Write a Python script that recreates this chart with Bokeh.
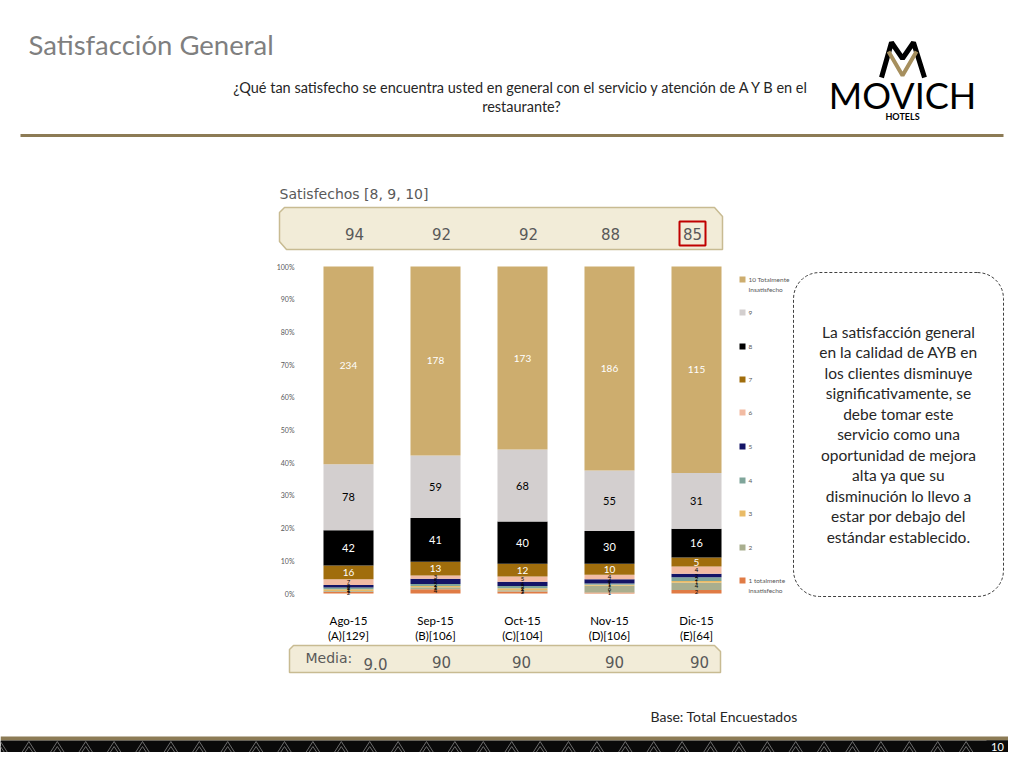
import numpy as np
from bokeh.plotting import figure
from bokeh.models import Range1d, LinearAxis, FixedTicker, PrintfTickFormatter, ColumnDataSource
from bokeh.core.properties import value
from bokeh.embed import file_html
from bokeh.resources import INLINE

# ---------------- data ----------------
months = ["Ago-15", "Sep-15", "Oct-15", "Nov-15", "Dic-15"]
bases = ["(A)[129]", "(B)[106]", "(C)[104]", "(D)[106]", "(E)[64]"]
satisfechos = [94, 92, 92, 88, 85]
media = ["9.0", "90", "90", "90", "90"]
levels = ["1", "2", "3", "4", "5", "6", "7", "8", "9", "10"]
legend_labels = ["1 totalmente\ninsatisfecho", "2", "3", "4", "5", "6", "7", "8", "9",
                 "10 Totalmente\nInsatisfecho"]
s1 = [2, 4, 2, 1, 2]
s2 = [1, 2, 1, 6, 4]
s3 = [2, 1, 2, 1, 1]
s4 = [2, 2, 2, 1, 2]
s5 = [3, 5, 4, 4, 2]
s6 = [7, 3, 5, 4, 4]
s7 = [16, 13, 12, 10, 5]
s8 = [42, 41, 40, 30, 16]
s9 = [78, 59, 68, 55, 31]
s10 = [234, 178, 173, 186, 115]
series = [s1, s2, s3, s4, s5, s6, s7, s8, s9, s10]
colors = ["#E07B45", "#A9AE8E", "#E9BB66", "#7FA59A", "#141466", "#F2BBA3",
          "#A06D0C", "#000000", "#D3CFCF", "#CDAD6E"]
label_colors = ["black"] * 6 + ["white", "white", "black", "white"]
label_sizes = ["6px"] * 6 + ["10px", "11px", "11px", "10px"]

# ---------------- figure (page pixel coordinates) ----------------
p = figure(width=1008, height=752, output_backend="svg", toolbar_location=None,
           x_range=Range1d(0, 1008), y_range=Range1d(752, 0),
           x_axis_location=None, y_axis_location=None, min_border=0)
p.grid.visible = False
p.outline_line_color = None
p.background_fill_color = "white"

# bar chart ranges mapped onto the page
p.extra_x_ranges = {"bx": Range1d((0 - 348) / 87, (1008 - 348) / 87)}
p.extra_y_ranges = {"by": Range1d((593 - 752) / 3.27, (593 - 0) / 3.27)}

FONT = value("Lato")
GOTH = value("DejaVu Sans")

def txt(x, y, t, size, color="#262626", align="left", font=FONT, style="normal", base="middle"):
    p.text(x=[x], y=[y], text=[t], text_font=font, text_font_size=size,
           text_color=color, text_align=align, text_baseline=base, text_font_style=style)

def rrect(x0, y0, x1, y1, r, n=10):
    xs, ys = [], []
    for cx, cy, a0 in [(x1 - r, y0 + r, -90), (x1 - r, y1 - r, 0), (x0 + r, y1 - r, 90), (x0 + r, y0 + r, 180)]:
        a = np.radians(np.linspace(a0, a0 + 90, n))
        xs += list(cx + r * np.cos(a))
        ys += list(cy + r * np.sin(a))
    xs.append(xs[0]); ys.append(ys[0])
    return xs, ys

# ---------------- header ----------------
txt(28, 44, "Satisfacción General", "27.5px", color="#7F7F7F")
txt(521, 87, "¿Qué tan satisfecho se encuentra usted en general con el servicio y atención de A Y B en el",
    "14.5px", align="center")
txt(521, 106, "restaurante?", "14.5px", align="center")
p.line([20, 1003], [135, 135], line_color="#8C7B55", line_width=3)

# logo
p.line([881, 891, 902, 913, 924], [77, 42, 58, 42, 77], line_color="black", line_width=5)
p.line([888, 902, 916], [51, 75, 51], line_color="#A68F5E", line_width=4)
txt(902, 94, "MOVICH", "36px", color="black", align="center")
txt(902, 116, "HOTELS", "9px", color="black", align="center", style="bold")

# ---------------- Satisfechos box ----------------
txt(279, 193, "Satisfechos [8, 9, 10]", "14px", color="#595959", font=GOTH)
p.patch([284, 714, 722, 722, 286, 279, 279], [207, 207, 216, 249, 249, 241, 212],
        fill_color="#F2ECD8", line_color="#C8BB92", line_width=1.5)
sx = [354, 441, 528, 610, 692]
p.text(x=sx, y=[233] * 5, text=[str(v) for v in satisfechos], text_font=GOTH,
       text_font_size="15px", text_color="#595959", text_align="center", text_baseline="middle")
p.quad(left=[679], right=[705], top=[221], bottom=[245], fill_color=None,
       line_color="#C00000", line_width=2)

# ---------------- stacked bars ----------------
tot = np.sum(np.array(series), axis=0)
pct = [list(np.array(s) / tot * 100) for s in series]
src = ColumnDataSource({"x": list(range(5)), **{levels[k]: pct[k] for k in range(10)}})
p.vbar_stack(levels, x="x", width=0.575, color=colors, source=src, line_color=None,
             x_range_name="bx", y_range_name="by")

lx, ly, lt, lc, ls = [], [], [], [], []
for i in range(5):
    cum = 0.0
    for k in range(10):
        v = pct[k][i]
        lx.append(i); ly.append(cum + v / 2); lt.append(str(series[k][i]))
        lc.append(label_colors[k]); ls.append(label_sizes[k])
        cum += v
p.text(x="x", y="y", text="t", text_color="c", text_font_size="s",
       source=ColumnDataSource(dict(x=lx, y=ly, t=lt, c=lc, s=ls)),
       text_font=FONT, text_align="center", text_baseline="middle",
       x_range_name="bx", y_range_name="by")

yax = LinearAxis(x_range_name="bx", y_range_name="by", fixed_location=(302 - 348) / 87,
                 ticker=FixedTicker(ticks=list(range(0, 101, 10))),
                 formatter=PrintfTickFormatter(format="%d%%"),
                 axis_line_color=None, major_tick_line_color=None, minor_tick_line_color=None,
                 major_label_text_font_size="7px", major_label_text_color="#595959",
                 major_label_standoff=2, major_label_text_font="Lato")
p.add_layout(yax, "left")
xax = LinearAxis(x_range_name="bx", y_range_name="by", fixed_location=0,
                 ticker=FixedTicker(ticks=list(range(5))),
                 major_label_overrides={i: f"{months[i]}\n{bases[i]}" for i in range(5)},
                 axis_line_color=None, major_tick_line_color=None, minor_tick_line_color=None,
                 major_label_text_font_size="11.5px", major_label_text_color="black",
                 major_label_standoff=14, major_label_text_font="Lato")
p.add_layout(xax, "below")

# legend (drawn)
leg_y = [580, 547, 513, 480, 446, 412, 379, 346, 312, 279]
p.rect(x=[742] * 10, y=leg_y, width=6, height=6, fill_color=colors, line_color=None)
for k in range(10):
    for j, line in enumerate(legend_labels[k].split("\n")):
        txt(748, leg_y[k] + 10 * j, line, "6.5px", color="#595959")

# ---------------- callout ----------------
bx_, by_ = rrect(793, 272, 1003, 596, 26)
p.line(bx_, by_, line_color="#404040", line_width=1, line_dash="3 2")
callout = ["La satisfacción general", "en la calidad de AYB en", "los clientes disminuye",
           "significativamente, se", "debe tomar este", "servicio como una",
           "oportunidad de mejora", "alta ya que su", "disminución lo llevo a",
           "estar por debajo del", "estándar establecido."]
for j, line in enumerate(callout):
    txt(898, 331 + 20.5 * j, line, "15.5px", color="#262626", align="center")

# ---------------- media box ----------------
p.patch([293, 714, 720, 720, 289, 289], [645, 645, 651, 672, 672, 649],
        fill_color="#F2ECD8", line_color="#C8BB92", line_width=1.5)
txt(305, 657, "Media:", "14px", color="#595959", font=GOTH)
mx = [375, 441, 521, 614, 699]
my = [663, 661, 661, 661, 661]
p.text(x=mx, y=my, text=media, text_font=GOTH, text_font_size="15px",
       text_color="#595959", text_align="center", text_baseline="middle")

txt(650, 716, "Base: Total Encuestados", "14px", color="#262626")

# ---------------- bottom band ----------------
p.quad(left=[0], right=[1008], top=[736], bottom=[740], fill_color="#8C7B55", line_color=None)
p.quad(left=[0], right=[1008], top=[740], bottom=[752], fill_color="#0A0A0A", line_color=None)
tx = np.arange(0, 1024, 28.4)
p.multi_line([[a - 7, a, a + 7] for a in tx], [[752, 741, 752] for a in tx],
             line_color="#6E6E6E", line_width=1)
p.multi_line([[a - 4, a, a + 4] for a in tx], [[752, 746, 752] for a in tx],
             line_color="#6E6E6E", line_width=1)
p.quad(left=[986], right=[1008], top=[740], bottom=[752], fill_color="#0A0A0A", line_color=None)
txt(997, 746, "10", "11px", color="white", align="center")

open("out.html", "w").write(file_html(p, INLINE))
